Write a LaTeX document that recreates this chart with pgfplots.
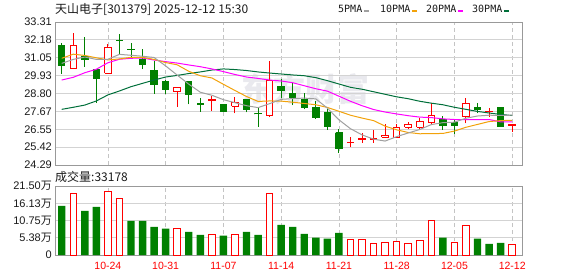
\documentclass[border=0pt]{standalone}
\usepackage{fontspec}
\setmainfont{Liberation Sans}
\newfontfamily\cjk{Noto Sans CJK SC}
\newfontfamily\mono{DejaVu Sans Mono}
\usepackage{pgfplots}
\pgfplotsset{compat=1.18}
\definecolor{cgreen}{HTML}{008000}
\definecolor{cred}{HTML}{FF0000}
\definecolor{ma5}{HTML}{A0A0A0}
\definecolor{ma10}{HTML}{F2A20A}
\definecolor{ma20}{HTML}{FF00FF}
\definecolor{ma30}{HTML}{006F3A}
\definecolor{gridgray}{HTML}{D3D3D3}
\definecolor{vgrid}{HTML}{C4C4C4}
\definecolor{axisgray}{HTML}{999999}
\definecolor{labcol}{HTML}{1A1A1A}
\definecolor{wm}{HTML}{E9E9EE}
\pgfplotsset{
  panel/.style={
    scale only axis, width=467pt,
    xmin=-0.58, xmax=39.85,
    axis line style={draw=axisgray, line width=0.9pt},
    tick style={draw=none},
    xtick={4,9,14,19,24,29,34,39},
    xmajorgrids, ymajorgrids,
    x grid style={vgrid, line width=0.8pt, dash pattern=on 4pt off 3pt},
    y grid style={gridgray, line width=0.8pt},
    yticklabel style={font=\fontsize{11}{11}\selectfont, text=labcol, inner sep=0pt, xshift=-3pt},
  }
}
\begin{document}
\begin{tikzpicture}
\useasboundingbox (0,0) rectangle (578pt,276pt);
\node[text=wm, font=\cjk\bfseries\fontsize{32}{32}\selectfont] at (305pt,187pt) {东方财富};
\node[anchor=west, inner sep=0pt, text=labcol, font=\cjk\fontsize{12}{12}\selectfont] at (55pt,267pt) {天山电子[301379] 2025-12-12 15:30};
\node[anchor=west, inner sep=0pt, text=labcol, font=\mono\fontsize{10}{10}\selectfont] at (338pt,267pt) {5PMA\,\textcolor{ma5}{\rule[0.5pt]{5.5pt}{2.2pt}}};
\node[anchor=west, inner sep=0pt, text=labcol, font=\mono\fontsize{10}{10}\selectfont] at (380pt,267pt) {10PMA\,\textcolor{ma10}{\rule[0.5pt]{5.5pt}{2.2pt}}};
\node[anchor=west, inner sep=0pt, text=labcol, font=\mono\fontsize{10}{10}\selectfont] at (426pt,267pt) {20PMA\,\textcolor{ma20}{\rule[0.5pt]{5.5pt}{2.2pt}}};
\node[anchor=west, inner sep=0pt, text=labcol, font=\mono\fontsize{10}{10}\selectfont] at (472pt,267pt) {30PMA\,\textcolor{ma30}{\rule[0.5pt]{5.5pt}{2.2pt}}};
\node[anchor=west, inner sep=0pt, text=labcol, font=\cjk\fontsize{12}{12}\selectfont] at (55pt,99pt) {成交量:33178};

% ---------------- price panel ----------------
\begin{axis}[panel,
  at={(55pt,111pt)}, anchor=south west, height=143pt,
  ymin=24.29, ymax=33.31,
  ytick={24.29,25.4175,26.545,27.6725,28.8,29.9275,31.055,32.1825,33.31},
  yticklabels={24.29,25.42,26.55,27.67,28.80,29.93,31.05,32.18,33.31},
  xticklabels={},
  unbounded coords=jump,
]
% wicks (low, high)
\addplot[cgreen, line width=1pt] coordinates {
(0,30.03) (0,32.00) (0,nan)
(2,30.49) (2,32.38) (2,nan)
(3,28.22) (3,30.35) (3,nan)
(5,31.25) (5,32.55) (5,nan)
(6,31.12) (6,31.98) (6,nan)
(7,30.33) (7,31.59) (7,nan)
(8,28.77) (8,30.85) (8,nan)
(9,28.77) (9,29.65) (9,nan)
(11,28.12) (11,29.53) (11,nan)
(12,27.65) (12,28.50) (12,nan)
(14,27.65) (14,28.12) (14,nan)
(16,27.61) (16,28.47) (16,nan)
(17,26.71) (17,27.97) (17,nan)
(19,28.50) (19,29.70) (19,nan)
(20,28.07) (20,29.44) (20,nan)
(21,27.80) (21,28.81) (21,nan)
(22,27.21) (22,28.35) (22,nan)
(23,26.50) (23,27.80) (23,nan)
(24,25.07) (24,26.54) (24,nan)
(33,26.50) (33,27.38) (33,nan)
(34,26.25) (34,27.15) (34,nan)
(36,27.55) (36,28.18) (36,nan)
(38,26.71) (38,27.90)
};
\addplot[cred, line width=1pt] coordinates {
(1,30.39) (1,32.60) (1,nan)
(4,30.07) (4,31.92) (4,nan)
(10,27.97) (10,29.19) (10,nan)
(13,27.71) (13,28.66) (13,nan)
(15,27.55) (15,28.56) (15,nan)
(18,27.34) (18,30.87) (18,nan)
(25,25.41) (25,26.04) (25,nan)
(26,25.70) (26,26.29) (26,nan)
(27,25.70) (27,26.50) (27,nan)
(28,26.04) (28,26.88) (28,nan)
(29,26.04) (29,26.88) (29,nan)
(30,26.54) (30,26.98) (30,nan)
(31,26.54) (31,27.24) (31,nan)
(32,26.86) (32,28.18) (32,nan)
(35,26.92) (35,28.50) (35,nan)
(37,27.34) (37,27.87) (37,nan)
(39,26.40) (39,26.86)
};
% bodies: green filled (open, close)
\addplot[draw=cgreen, fill=cgreen, line width=1pt] coordinates {
(-0.28,31.80) (0.28,31.80) (0.28,30.55) (-0.28,30.55) (-0.28,31.80) (0,nan)
(1.72,31.16) (2.28,31.16) (2.28,30.95) (1.72,30.95) (1.72,31.16) (2,nan)
(2.72,30.33) (3.28,30.33) (3.28,29.73) (2.72,29.73) (2.72,30.33) (3,nan)
(4.72,32.15) (5.28,32.15) (5.28,32.12) (4.72,32.12) (4.72,32.15) (5,nan)
(5.72,31.58) (6.28,31.58) (6.28,31.55) (5.72,31.55) (5.72,31.58) (6,nan)
(6.72,30.95) (7.28,30.95) (7.28,30.64) (6.72,30.64) (6.72,30.95) (7,nan)
(7.72,30.28) (8.28,30.28) (8.28,29.34) (7.72,29.34) (7.72,30.28) (8,nan)
(8.72,29.53) (9.28,29.53) (9.28,29.06) (8.72,29.06) (8.72,29.53) (9,nan)
(10.72,29.53) (11.28,29.53) (11.28,28.71) (10.72,28.71) (10.72,29.53) (11,nan)
(11.72,28.14) (12.28,28.14) (12.28,28.12) (11.72,28.12) (11.72,28.14) (12,nan)
(13.72,28.12) (14.28,28.12) (14.28,27.65) (13.72,27.65) (13.72,28.12) (14,nan)
(15.72,28.39) (16.28,28.39) (16.28,27.76) (15.72,27.76) (15.72,28.39) (16,nan)
(16.72,27.53) (17.28,27.53) (17.28,27.51) (16.72,27.51) (16.72,27.53) (17,nan)
(18.72,29.27) (19.28,29.27) (19.28,28.98) (18.72,28.98) (18.72,29.27) (19,nan)
(19.72,28.77) (20.28,28.77) (20.28,28.52) (19.72,28.52) (19.72,28.77) (20,nan)
(20.72,28.45) (21.28,28.45) (21.28,27.90) (20.72,27.90) (20.72,28.45) (21,nan)
(21.72,27.93) (22.28,27.93) (22.28,27.27) (21.72,27.27) (21.72,27.93) (22,nan)
(22.72,27.59) (23.28,27.59) (23.28,26.71) (22.72,26.71) (22.72,27.59) (23,nan)
(23.72,26.33) (24.28,26.33) (24.28,25.30) (23.72,25.30) (23.72,26.33) (24,nan)
(32.72,27.17) (33.28,27.17) (33.28,26.77) (32.72,26.77) (32.72,27.17) (33,nan)
(33.72,26.94) (34.28,26.94) (34.28,26.80) (33.72,26.80) (33.72,26.94) (34,nan)
(35.72,27.93) (36.28,27.93) (36.28,27.76) (35.72,27.76) (35.72,27.93) (36,nan)
(37.72,27.90) (38.28,27.90) (38.28,26.71) (37.72,26.71) (37.72,27.90)
};
% bodies: red hollow (open, close)
\addplot[draw=cred, fill=white, line width=1pt] coordinates {
(0.72,30.39) (1.28,30.39) (1.28,31.85) (0.72,31.85) (0.72,30.39) (1,nan)
(3.72,30.07) (4.28,30.07) (4.28,31.71) (3.72,31.71) (3.72,30.07) (4,nan)
(9.72,28.91) (10.28,28.91) (10.28,29.19) (9.72,29.19) (9.72,28.91) (10,nan)
(12.72,28.37) (13.28,28.37) (13.28,28.39) (12.72,28.39) (12.72,28.37) (13,nan)
(14.72,28.01) (15.28,28.01) (15.28,28.24) (14.72,28.24) (14.72,28.01) (15,nan)
(17.72,27.40) (18.28,27.40) (18.28,29.65) (17.72,29.65) (17.72,27.40) (18,nan)
(24.72,25.70) (25.28,25.70) (25.28,25.72) (24.72,25.72) (24.72,25.70) (25,nan)
(25.72,25.91) (26.28,25.91) (26.28,25.93) (25.72,25.93) (25.72,25.91) (26,nan)
(26.72,25.90) (27.28,25.90) (27.28,25.95) (26.72,25.95) (26.72,25.90) (27,nan)
(27.72,26.04) (28.28,26.04) (28.28,26.12) (27.72,26.12) (27.72,26.04) (28,nan)
(28.72,26.04) (29.28,26.04) (29.28,26.67) (28.72,26.67) (28.72,26.04) (29,nan)
(29.72,26.67) (30.28,26.67) (30.28,26.86) (29.72,26.86) (29.72,26.67) (30,nan)
(30.72,26.67) (31.28,26.67) (31.28,27.05) (30.72,27.05) (30.72,26.67) (31,nan)
(31.72,26.96) (32.28,26.96) (32.28,27.44) (31.72,27.44) (31.72,26.96) (32,nan)
(34.72,27.34) (35.28,27.34) (35.28,28.14) (34.72,28.14) (34.72,27.34) (35,nan)
(36.72,27.64) (37.28,27.64) (37.28,27.66) (36.72,27.66) (36.72,27.64) (37,nan)
(38.72,26.75) (39.28,26.75) (39.28,26.86) (38.72,26.86) (38.72,26.75)
};
% moving averages
\addplot[ma30, line width=1pt] coordinates {
(0,27.80) (1,27.93) (2,28.07) (3,28.33) (4,28.71) (5,28.96) (6,29.23) (7,29.44) (8,29.65) (9,29.84)
(10,29.94) (11,30.06) (12,30.16) (13,30.28) (14,30.35) (15,30.31) (16,30.25) (17,30.16) (18,30.09) (19,30.03)
(20,29.97) (21,29.92) (22,29.80) (23,29.61) (24,29.40) (25,29.19) (26,29.07) (27,28.91) (28,28.75) (29,28.59)
(30,28.47) (31,28.31) (32,28.19) (33,28.09) (34,27.93) (35,27.80) (36,27.67) (37,27.57) (38,27.48) (39,27.41)
};
\addplot[ma20, line width=1pt] coordinates {
(0,29.65) (1,29.82) (2,30.11) (3,30.33) (4,30.74) (5,30.96) (6,31.02) (7,31.04) (8,30.91) (9,30.81)
(10,30.72) (11,30.60) (12,30.49) (13,30.35) (14,30.18) (15,30.00) (16,29.84) (17,29.75) (18,29.65) (19,29.59)
(20,29.48) (21,29.29) (22,29.10) (23,28.95) (24,28.63) (25,28.31) (26,28.03) (27,27.79) (28,27.63) (29,27.51)
(30,27.40) (31,27.31) (32,27.28) (33,27.20) (34,27.16) (35,27.15) (36,27.15) (37,27.16) (38,27.01) (39,27.01)
};
\addplot[ma10, line width=1pt] coordinates {
(0,31.02) (1,31.28) (2,31.20) (3,31.05) (4,30.92) (5,30.98) (6,31.08) (7,31.08) (8,30.95) (9,30.75)
(10,30.61) (11,30.20) (12,29.92) (13,29.78) (14,29.38) (15,28.99) (16,28.61) (17,28.30) (18,28.33) (19,28.32)
(20,28.25) (21,28.17) (22,28.09) (23,27.92) (24,27.68) (25,27.43) (26,27.25) (27,27.09) (28,26.74) (29,26.51)
(30,26.34) (31,26.26) (32,26.27) (33,26.28) (34,26.43) (35,26.67) (36,26.85) (37,27.03) (38,27.09) (39,27.11)
};
\addplot[ma5, line width=1pt] coordinates {
(0,30.70) (1,30.95) (2,31.10) (3,30.95) (4,30.96) (5,31.27) (6,31.21) (7,31.15) (8,31.07) (9,30.54)
(10,29.96) (11,29.39) (12,28.88) (13,28.69) (14,28.41) (15,28.22) (16,28.03) (17,27.91) (18,28.16) (19,28.43)
(20,28.48) (21,28.51) (22,28.46) (23,27.88) (24,27.14) (25,26.58) (26,26.19) (27,25.92) (28,25.80) (29,26.08)
(30,26.31) (31,26.53) (32,26.84) (33,26.96) (34,26.99) (35,27.24) (36,27.38) (37,27.43) (38,27.42) (39,27.43)
};
\end{axis}

% ---------------- volume panel ----------------
\begin{axis}[panel,
  at={(55pt,21pt)}, anchor=south west, height=69pt,
  ymin=0, ymax=21.5,
  ytick={0,5.375,10.75,16.125,21.5},
  yticklabels={0,5.38{\cjk 万},10.75{\cjk 万},16.13{\cjk 万},21.50{\cjk 万}},
  xticklabels={10-24,10-31,11-07,11-14,11-21,11-28,12-05,12-12},
  xticklabel style={font=\fontsize{10.5}{10.5}\selectfont, text=cred, inner sep=0pt, anchor=north, yshift=-7pt},
]
\addplot[ybar, bar shift=0pt, bar width=7.4pt, fill=cgreen, draw=none] coordinates {
(0,15.3) (2,13.75) (3,15.0) (6,10.65) (7,10.65) (8,8.8) (9,8.2) (11,7.2) (12,6.3) (14,6.0)
(16,7.2) (17,6.3) (19,9.4) (20,8.8) (21,6.6) (22,5.4) (23,5.1) (24,6.9) (33,5.4) (36,5.1)
(37,3.5) (38,3.8)
};
\addplot[ybar, bar shift=0pt, bar width=6.5pt, fill=white, draw=cred, line width=1pt] coordinates {
(1,19.2) (4,19.85) (5,17.7) (10,8.4) (13,6.5) (15,6.5) (18,19.2) (25,4.75) (26,4.75) (27,3.7)
(28,4.0) (29,4.3) (30,3.7) (31,4.65) (32,10.9) (34,4.0) (35,9.3) (39,3.3178)
};
\end{axis}
\end{tikzpicture}
\end{document}
